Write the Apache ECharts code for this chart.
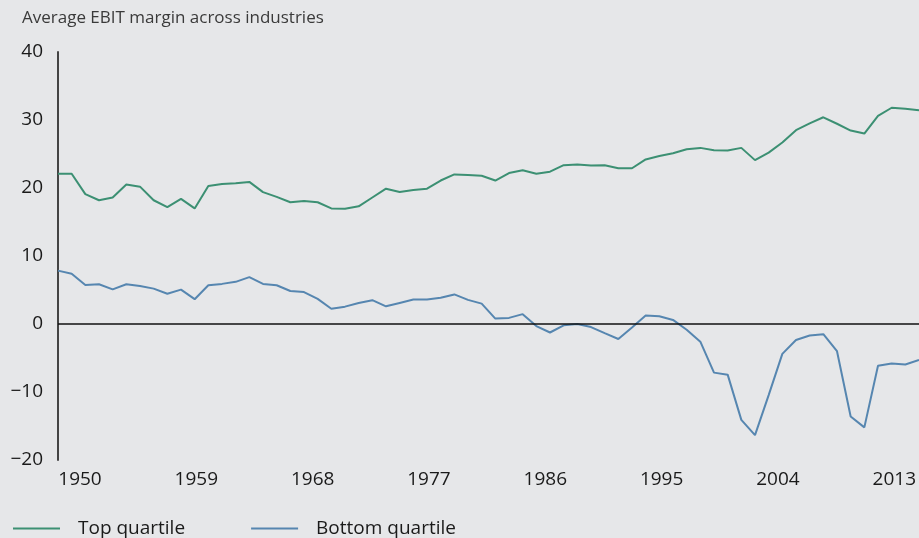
<!DOCTYPE html>
<html>
<head>
<meta charset="utf-8">
<script src="https://cdn.jsdelivr.net/npm/echarts@6/dist/echarts.min.js"></script>
<style>
html,body{margin:0;padding:0;background:#e6e7e9;}
#c{width:919px;height:538px;}
</style>
</head>
<body>
<div id="c"></div>
<script>
// Years 1950..2013
const years = [];
for (let y = 1950; y <= 2013; y++) years.push(String(y));

const tickLabels = ['1950','1959','1968','1977','1986','1995','2004','2013'];

const topQuartile = [
  22.1, 22.1, 19.1, 18.2, 18.6, 20.5, 20.2, 18.2, 17.2, 18.4,
  17.0, 20.3, 20.6, 20.7, 20.9, 19.4, 18.7, 17.9, 18.1, 17.9,
  17.0, 16.95, 17.3, 18.6, 19.9, 19.4, 19.7, 19.9, 21.1, 22.0,
  21.9, 21.8, 21.1, 22.2, 22.6, 22.1, 22.4, 23.35, 23.45, 23.3,
  23.35, 22.9, 22.9, 24.2, 24.7, 25.1, 25.7, 25.9, 25.55, 25.5,
  25.9, 24.1, 25.2, 26.7, 28.5, 29.5, 30.4, 29.45, 28.45, 28.0,
  30.6, 31.8, 31.65, 31.45
];

const bottomQuartile = [
  7.85, 7.4, 5.75, 5.85, 5.1, 5.85, 5.6, 5.2, 4.45, 5.05,
  3.65, 5.7, 5.9, 6.2, 6.9, 5.9, 5.7, 4.85, 4.7, 3.7,
  2.25, 2.55, 3.1, 3.5, 2.6, 3.1, 3.6, 3.6, 3.85, 4.35,
  3.55, 3.0, 0.8, 0.9, 1.45, -0.3, -1.25, -0.2, 0.0, -0.45,
  -1.35, -2.2, -0.5, 1.25, 1.15, 0.6, -0.85, -2.6, -7.15, -7.45,
  -14.1, -16.35, -10.45, -4.4, -2.35, -1.7, -1.5, -4.0, -13.6, -15.2,
  -6.15, -5.8, -5.95, -5.3
];

const FONT = '"Open Sans", "Noto Sans", sans-serif';
const GREEN = '#3c9073';
const BLUE = '#5686b0';

const chart = echarts.init(document.getElementById('c'));
chart.setOption({
  backgroundColor: '#e6e7e9',
  animation: false,
  textStyle: { fontFamily: FONT },
  title: {
    text: 'Average EBIT margin across industries',
    left: 17, top: 5,
    textStyle: { fontFamily: FONT, fontSize: 17, fontWeight: 'normal', color: '#3a3a3a' }
  },
  legend: {
    left: 8, top: 514,
    itemWidth: 47, itemHeight: 2, itemGap: 66,
    icon: 'rect',
    textStyle: { fontFamily: FONT, fontSize: 19, color: '#1a1a1a', padding: [0, 0, 0, 13] },
    data: ['Top quartile', 'Bottom quartile']
  },
  grid: [
    { left: 58, top: 52, width: 862, bottom: 78, containLabel: false },
    { left: 80, top: 52, right: 20, bottom: 78, containLabel: false }
  ],
  xAxis: [
    {
      type: 'category', gridIndex: 0, data: years, boundaryGap: false,
      axisLine: { show: false }, axisTick: { show: false }, axisLabel: { show: false },
      splitLine: { show: false }
    },
    {
      type: 'category', gridIndex: 1, data: tickLabels, boundaryGap: false,
      axisLine: { show: false }, axisTick: { show: false },
      axisLabel: { show: true, interval: 0, margin: 10, fontFamily: FONT, fontSize: 19, color: '#1a1a1a' },
      splitLine: { show: false }
    }
  ],
  yAxis: [
    {
      type: 'value', gridIndex: 0, min: -20, max: 40, interval: 10,
      axisLine: { show: true, lineStyle: { color: '#444', width: 2 } },
      axisTick: { show: false },
      splitLine: { show: false },
      axisLabel: {
        margin: 15, fontFamily: FONT, fontSize: 19, color: '#1a1a1a',
        formatter: v => (v < 0 ? '\u2212' + Math.abs(v) : String(v))
      }
    },
    { type: 'value', gridIndex: 1, show: false, min: 0, max: 1 }
  ],
  series: [
    {
      name: 'Top quartile', type: 'line', data: topQuartile,
      xAxisIndex: 0, yAxisIndex: 0,
      symbol: 'none', lineStyle: { color: GREEN, width: 2 }, itemStyle: { color: GREEN }
    },
    {
      name: 'Bottom quartile', type: 'line', data: bottomQuartile,
      xAxisIndex: 0, yAxisIndex: 0,
      symbol: 'none', lineStyle: { color: BLUE, width: 2 }, itemStyle: { color: BLUE },
      markLine: {
        silent: true, symbol: ['none', 'none'],
        label: { show: false },
        lineStyle: { color: '#111', width: 1.5, type: 'solid' },
        data: [{ yAxis: 0 }]
      }
    }
  ]
});
</script>
</body>
</html>
